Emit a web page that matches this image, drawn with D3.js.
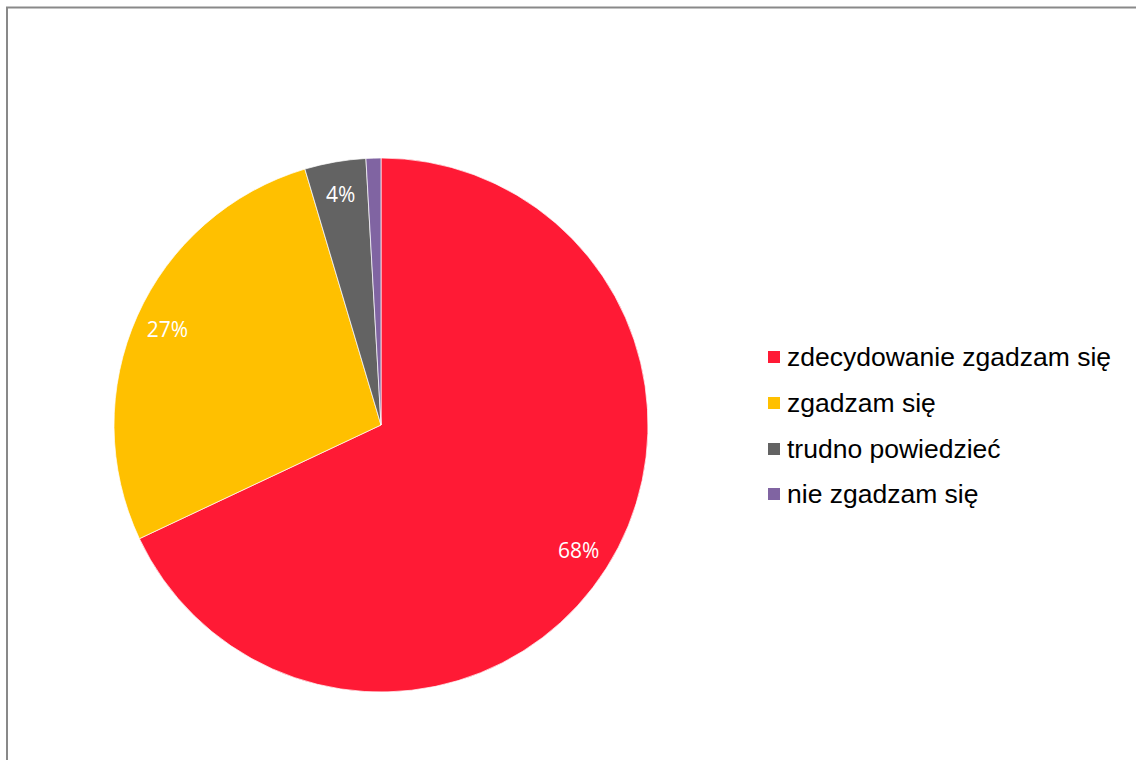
<!DOCTYPE html>
<html><head><meta charset="utf-8">
<script src="https://cdn.jsdelivr.net/npm/d3@7"></script>
<style>body{margin:0;background:#fff}svg{display:block}</style>
</head><body>
<svg id="c" width="1136" height="760"></svg>
<script>
const categories = ["zdecydowanie zgadzam się","zgadzam się","trudno powiedzieć","nie zgadzam się"];
const values = [68.0, 27.4, 3.7, 0.9];
const labels = ["68%","27%","4%",""];
const colors = ["#FF1A35","#FFC000","#636363","#8064A2"];

const svg = d3.select("#c");
svg.append("rect").attr("x",7).attr("y",7.5).attr("width",1140).attr("height",770)
  .attr("fill","none").attr("stroke","#898989").attr("stroke-width",2);

const cx=381, cy=425, r=267;
const g = svg.append("g").attr("transform",`translate(${cx},${cy})`);
const data = categories.map((c,i)=>({c, v:values[i], l:labels[i], col:colors[i]}));
const pie = d3.pie().value(d=>d.v).sort(null);
const arc = d3.arc().innerRadius(0).outerRadius(r);
const arcs = pie(data);
g.selectAll("path").data(arcs).join("path").attr("d",arc)
  .attr("fill",d=>d.data.col).attr("stroke","#fff").attr("stroke-width",0.7);
const la = d3.arc().innerRadius(234).outerRadius(234);
g.selectAll("text").data(arcs).join("text")
  .attr("transform",d=>`translate(${la.centroid(d)})`)
  .attr("text-anchor","middle").attr("dy","0.36em")
  .attr("font-family","'Open Sans', sans-serif").attr("font-size",21)
  .attr("fill","#fff").text(d=>d.data.l);

const leg = svg.append("g");
const ys = [357,403,449,494];
categories.forEach((c,i)=>{
  leg.append("rect").attr("x",768).attr("y",ys[i]-6).attr("width",12).attr("height",12).attr("fill",colors[i]);
  leg.append("text").attr("x",787).attr("y",ys[i]).attr("dy","0.35em")
    .attr("font-family","'Liberation Sans', Arial, sans-serif").attr("font-size",26.5)
    .attr("fill","#000").text(c);
});
</script>
</body></html>
